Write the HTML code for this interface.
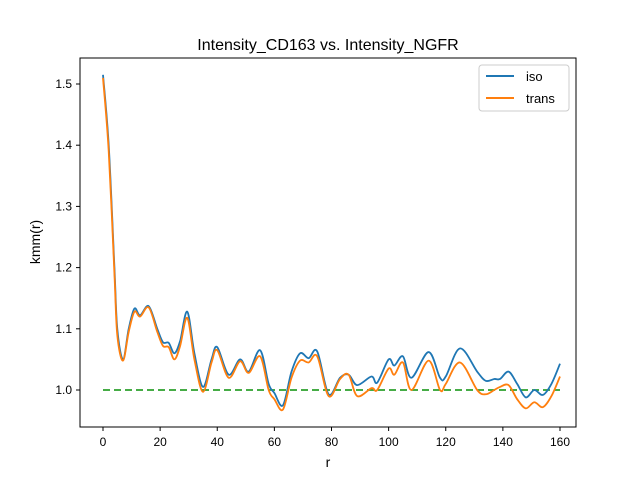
<!DOCTYPE html>
<html><head><meta charset="utf-8"><style>
body{margin:0;background:#fff}
svg text{font-family:"Liberation Sans","DejaVu Sans",sans-serif;fill:#000}
</style></head><body>
<svg id="c" width="640" height="480">
<rect width="640" height="480" fill="#fff"/>
<text x="328" y="50" font-size="16" text-anchor="middle">Intensity_CD163 vs. Intensity_NGFR</text>
<g id="plot"></g>
<rect x="80" y="58" width="496" height="369" fill="none" stroke="#000" stroke-width="1"/>
<text x="328" y="467" font-size="14" text-anchor="middle">r</text>
<text transform="translate(40,242) rotate(-90)" font-size="14" text-anchor="middle">kmm(r)</text>
<g>
<rect x="479" y="65" width="90" height="46" rx="3" fill="#fff" stroke="#ccc"/>
<line x1="486" y1="76" x2="514" y2="76" stroke="#1f77b4" stroke-width="2"/>
<text x="526" y="81" font-size="13">iso</text>
<line x1="486" y1="98" x2="514" y2="98" stroke="#ff7f0e" stroke-width="2"/>
<text x="526" y="103" font-size="13">trans</text>
</g>
</svg>
<script>
const rVals=[0,2,4,5,7,9,11,13,16,19,21,23,25,27,29.5,32,35,38,40,44,48,51,55,58,60,63,66,69,72,75,79,83,86,89,94,96,100,102,105,108,114,118,120,125,131,134,137,139,142,145,148,151,154,157,160];
const isoVals=[1.515,1.40,1.20,1.10,1.05,1.10,1.133,1.122,1.137,1.10,1.078,1.077,1.06,1.08,1.128,1.06,1.005,1.05,1.07,1.025,1.05,1.03,1.065,1.01,0.995,0.975,1.03,1.06,1.052,1.063,0.993,1.02,1.025,1.008,1.022,1.012,1.05,1.04,1.055,1.02,1.062,1.02,1.022,1.068,1.03,1.015,1.018,1.018,1.03,1.01,0.988,1.0,0.992,1.01,1.043];
const transVals=[1.51,1.39,1.19,1.09,1.048,1.095,1.128,1.12,1.135,1.095,1.072,1.07,1.05,1.072,1.118,1.05,0.997,1.045,1.065,1.02,1.047,1.028,1.055,1.0,0.985,0.968,1.02,1.048,1.045,1.055,0.99,1.018,1.025,0.99,1.003,1.0,1.035,1.025,1.045,1.0,1.048,1.0,1.01,1.045,1.0,0.993,1.0,1.005,1.008,0.985,0.97,0.98,0.972,0.99,1.022];
const xTicks=[0,20,40,60,80,100,120,140,160];
const yTicks=[1.0,1.1,1.2,1.3,1.4,1.5];
const xs=r=>103+r*(457/160);
const ys=v=>390-(v-1)*612;
const NS="http://www.w3.org/2000/svg";
const plot=document.getElementById('plot');
function mk(t,a){const e=document.createElementNS(NS,t);for(const k in a)e.setAttribute(k,a[k]);plot.appendChild(e);return e;}
xTicks.forEach(t=>{
 const g=mk('line',{x1:xs(t),x2:xs(t),y1:427,y2:431,stroke:'#000'});
 
 
 const tx=mk('text',{x:xs(t),y:446,'font-size':12,'text-anchor':'middle'});tx.textContent=t;
 
 
});
yTicks.forEach(t=>{
 const g=mk('line',{x1:76,x2:80,y1:ys(t),y2:ys(t),stroke:'#000'});
 
 
 const tx=mk('text',{x:72,y:ys(t)+4,'font-size':12,'text-anchor':'end'});tx.textContent=t.toFixed(1);
 
 
});
function path(vals){
 const p=rVals.map((r,i)=>[xs(r),ys(vals[i])]);
 let d='M'+p[0][0]+','+p[0][1];
 for(let i=0;i<p.length-1;i++){
  const p0=p[Math.max(i-1,0)],p1=p[i],p2=p[i+1],p3=p[Math.min(i+2,p.length-1)];
  const c1=[p1[0]+(p2[0]-p0[0])/6,p1[1]+(p2[1]-p0[1])/6];
  const c2=[p2[0]-(p3[0]-p1[0])/6,p2[1]-(p3[1]-p1[1])/6];
  d+=`C${c1[0]},${c1[1]} ${c2[0]},${c2[1]} ${p2[0]},${p2[1]}`;
 }
 return d;
}
const base=mk('line',{x1:xs(0),x2:xs(160),y1:ys(1),y2:ys(1),stroke:'#2ca02c','stroke-width':1.8,'stroke-dasharray':'7,4'});


const li=mk('path',{d:path(isoVals),fill:'none',stroke:'#1f77b4','stroke-width':1.8});


const lt=mk('path',{d:path(transVals),fill:'none',stroke:'#ff7f0e','stroke-width':1.8});


</script>
</body></html>
